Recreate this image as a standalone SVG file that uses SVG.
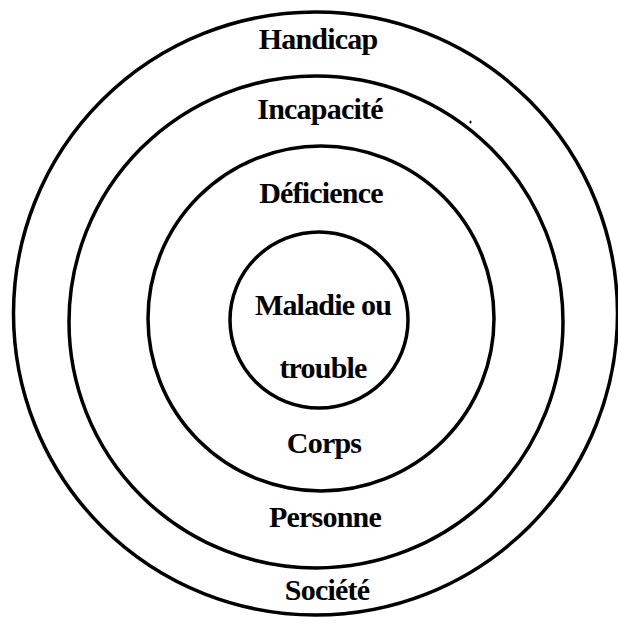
<svg xmlns="http://www.w3.org/2000/svg" width="618" height="625" viewBox="0 0 618 625">
<style>
.ring{fill:none;stroke:#000;stroke-width:3.5}
.lbl{font-family:"Liberation Serif","Times New Roman",serif;font-weight:bold;font-size:30px;fill:#000;text-anchor:middle;letter-spacing:-0.8px}
</style>
<rect width="618" height="625" fill="#fff"/>
<g id="societe">
<ellipse class="ring" cx="315.5" cy="313.5" rx="302" ry="301.5"/>
<text class="lbl" x="318" y="49">Handicap</text>
<text class="lbl" x="327" y="600">Société</text>
</g>
<g id="personne">
<ellipse class="ring" cx="316" cy="322" rx="247" ry="246"/>
<text class="lbl" x="320" y="119">Incapacité</text>
<text class="lbl" x="325" y="527">Personne</text>
</g>
<g id="corps">
<ellipse class="ring" cx="321" cy="318.5" rx="173" ry="172.5"/>
<text class="lbl" x="321" y="203">Déficience</text>
<text class="lbl" x="324" y="453">Corps</text>
</g>
<g id="maladie">
<ellipse class="ring" cx="319" cy="320" rx="89" ry="88"/>
<text class="lbl" x="323" y="315">Maladie ou</text>
<text class="lbl" x="323" y="378">trouble</text>
</g>
<g id="connectors"></g>
<ellipse cx="470.5" cy="122" rx="1" ry="1.5" fill="#000"/>
</svg>
